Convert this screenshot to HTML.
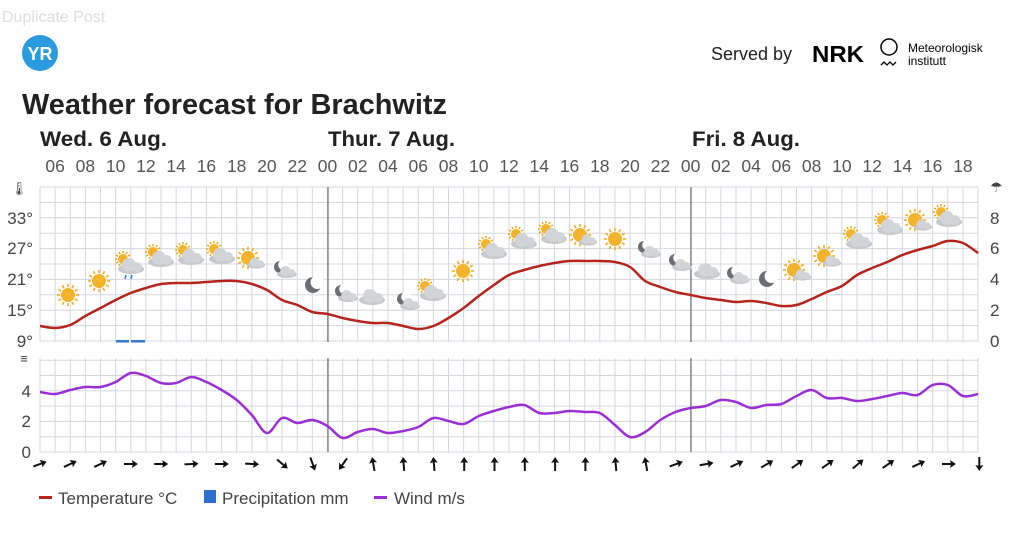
<!DOCTYPE html>
<html><head><meta charset="utf-8"><style>
body{margin:0;width:1024px;height:532px;background:#fff;overflow:hidden;font-family:"Liberation Sans",sans-serif}
</style></head><body>
<svg id="s" width="1024" height="532" xmlns="http://www.w3.org/2000/svg" font-family="Liberation Sans, sans-serif">
<text x="2" y="22" font-size="16" fill="#ddd">Duplicate Post</text>
<circle cx="40" cy="53" r="18" fill="#2b9be0"/>
<text x="40" y="60" font-size="18" font-weight="bold" fill="#fff" text-anchor="middle">YR</text>
<text x="711" y="60" font-size="18" fill="#222">Served by</text>
<text x="812" y="62" font-size="23" font-weight="bold" fill="#000" textLength="52" lengthAdjust="spacingAndGlyphs">NRK</text>
<circle cx="889" cy="47" r="8" fill="none" stroke="#000" stroke-width="1.5"/>
<path d="M881 65 l3 -3 l3 3 l3 -3 l3 3 l3 -3" fill="none" stroke="#000" stroke-width="1.3"/>
<text x="908" y="52" font-size="12" fill="#000">Meteorologisk</text>
<text x="908" y="65" font-size="12" fill="#000">institutt</text>
<text x="22" y="114" font-size="29" font-weight="bold" fill="#222" textLength="425" lengthAdjust="spacingAndGlyphs">Weather forecast for Brachwitz</text>
<text x="40" y="146" font-size="21" font-weight="bold" fill="#222" textLength="127" lengthAdjust="spacingAndGlyphs">Wed. 6 Aug.</text>
<text x="328" y="146" font-size="21" font-weight="bold" fill="#222" textLength="127" lengthAdjust="spacingAndGlyphs">Thur. 7 Aug.</text>
<text x="692" y="146" font-size="21" font-weight="bold" fill="#222" textLength="108" lengthAdjust="spacingAndGlyphs">Fri. 8 Aug.</text>
<g id="g"></g>
</svg>
<script>
const NS="http://www.w3.org/2000/svg",g=document.getElementById('g');
function el(t,a,txt){const e=document.createElementNS(NS,t);for(const k in a)e.setAttribute(k,a[k]);if(txt!==undefined)e.textContent=txt;g.appendChild(e);return e;}
const x0=40,dx=15.13,N=62,x1=x0+N*dx;
for(let i=0;i<=N;i++){const x=x0+i*dx;el('line',{x1:x,x2:x,y1:187,y2:342,stroke:'#d3d8e0','stroke-width':1});el('line',{x1:x,x2:x,y1:358,y2:452,stroke:'#d3d8e0','stroke-width':1});}
for(let j=0;j<=10;j++){const y=187+j*15.4;el('line',{x1:x0,x2:x1,y1:y,y2:y,stroke:'#d3d8e0'});}
for(let j=0;j<=6;j++){const y=452-j*15.3;el('line',{x1:x0,x2:x1,y1:y,y2:y,stroke:'#d3d8e0'});}
[328,691].forEach(x=>{el('line',{x1:x,x2:x,y1:187,y2:342,stroke:'#555'});el('line',{x1:x,x2:x,y1:358,y2:452,stroke:'#555'});});
for(let i=1;i<N;i+=2){const h=(5+i)%24;el('text',{x:x0+i*dx,y:172,'font-size':17.5,fill:'#555','text-anchor':'middle'},String(h).padStart(2,'0'));}
[[33,224],[27,254],[21,285],[15,316],[9,347]].forEach(a=>el('text',{x:33,y:a[1],'font-size':17,fill:'#444','text-anchor':'end'},a[0]+'°'));
[[8,224],[6,254],[4,285],[2,316],[0,347]].forEach(a=>el('text',{x:990,y:a[1],'font-size':17,fill:'#444'},a[0]));
[[4,397],[2,427],[0,458]].forEach(a=>el('text',{x:31,y:a[1],'font-size':17,fill:'#444','text-anchor':'end'},a[0]));
el('text',{x:19,y:193,'font-size':13,fill:'#444','text-anchor':'middle'},'🌡');
el('text',{x:990,y:192,'font-size':14,fill:'#444'},'☂');
el('text',{x:24,y:363,'font-size':13,fill:'#444','text-anchor':'middle'},'≡');
el('rect',{x:116,y:340,width:13,height:2.5,fill:'#3a78d0'});el('rect',{x:131,y:340,width:14,height:2.5,fill:'#3a78d0'});
function path(p){let d='M'+p[0][0]+' '+p[0][1];for(let i=0;i<p.length-1;i++){const a=p[Math.max(0,i-1)],b=p[i],c=p[i+1],e=p[Math.min(p.length-1,i+2)];d+=` C${b[0]+(c[0]-a[0])/6} ${b[1]+(c[1]-a[1])/6} ${c[0]-(e[0]-b[0])/6} ${c[1]-(e[1]-b[1])/6} ${c[0]} ${c[1]}`;}return d;}
const T=[326,328,325,316,308,300,293,288,284,283,283,282,281,281,284,290,300,305,312,314,318,321,323,323,326,329,326,318,308,296,285,275,270,266,263,261,261,261,262,267,281,287,292,295,298,300,302,301,303,306,305,299,292,286,275,268,262,255,250,246,241,243,246,253];
const W=[392,394,390,387,387,382,373,376,383,383,377,382,390,400,415,433,418,423,420,426,438,432,429,433,431,427,418,421,424,416,411,407,405,413,413,411,412,413,425,437,432,420,412,408,406,400,402,408,405,404,396,390,398,398,401,399,396,393,395,385,385,396,394];
const tp=T.slice(0,N).map((y,i)=>[x0+i*dx,y]);tp.push([x1,253]);
const wp=W.map((y,i)=>[x0+i*dx,y]);
el('path',{d:path(tp),fill:'none',stroke:'#b5241d','stroke-width':2.5});
el('path',{d:path(wp),fill:'none',stroke:'#9b2fd6','stroke-width':2.5});
function sun(x,y,r){for(let a=0;a<12;a++){const t=a*Math.PI/6;el('line',{x1:x+Math.cos(t)*r*1.15,y1:y+Math.sin(t)*r*1.15,x2:x+Math.cos(t)*r*1.6,y2:y+Math.sin(t)*r*1.6,stroke:'#f0a818','stroke-width':1.5});}el('circle',{cx:x,cy:y,r:r,fill:'#f3b42c'});}
function cloud(x,y,s){el('ellipse',{cx:x,cy:y+3*s,rx:13*s,ry:5*s,fill:'#c6c8cc'});el('circle',{cx:x-2*s,cy:y-1*s,r:7*s,fill:'#d2d4d8'});el('circle',{cx:x+6*s,cy:y+1*s,r:5*s,fill:'#d2d4d8'});}
function moon(x,y,r){el('circle',{cx:x,cy:y,r:r,fill:'#6b6e74'});el('circle',{cx:x+r*0.55,cy:y-r*0.35,r:r*0.85,fill:'#fff'});}
const I=[[68,295,'s'],[99,281,'s'],[130,265,'pr'],[160,258,'p'],[190,256,'p'],[221,255,'p'],[252,260,'sc'],[284,270,'mc'],[313,285,'m'],[345,294,'mc'],[372,297,'c'],[407,302,'mc'],[432,292,'p'],[463,271,'s'],[493,250,'p'],[523,240,'p'],[553,235,'p'],[584,237,'sc'],[615,239,'s'],[648,250,'mc'],[679,263,'mc'],[707,271,'c'],[737,276,'mc'],[767,279,'m'],[798,272,'sc'],[828,258,'sc'],[858,240,'p'],[889,226,'p'],[919,222,'sc'],[948,218,'p']];
I.forEach(([x,y,t])=>{if(t=='s')sun(x,y,7);else if(t=='m')moon(x,y,8);else if(t=='c')cloud(x,y,1);else if(t=='mc'){moon(x-4,y-3,6);cloud(x+3,y+2,0.75);}else if(t=='sc'){sun(x-4,y-2,7);cloud(x+4,y+3,0.7);}else{sun(x-7,y-6,5);cloud(x+1,y+1,1);if(t=='pr'){el('line',{x1:x-4,y1:y+10,x2:x-5,y2:y+14,stroke:'#3a78d0','stroke-width':1.5});el('line',{x1:x+2,y1:y+10,x2:x+1,y2:y+14,stroke:'#3a78d0','stroke-width':1.5});}}});
const A=[-20,-25,-25,0,0,-3,0,3,40,70,125,-100,-95,-95,-90,-90,-90,-90,-90,-95,-100,-20,-10,-25,-30,-35,-35,-40,-35,-25,0,90];
A.forEach((a,i)=>{const gg=document.createElementNS(NS,'g');gg.setAttribute('transform',`translate(${x0+i*30.3},464) rotate(${a})`);gg.innerHTML='<line x1="-7" y1="0" x2="5" y2="0" stroke="#111" stroke-width="2"/><path d="M7 0 L1 -4 L2 0 L1 4Z" fill="#111"/>';g.appendChild(gg);});
el('rect',{x:39,y:496,width:13,height:3,fill:'#b5241d'});
el('text',{x:58,y:504,'font-size':17,fill:'#444'},'Temperature °C');
el('rect',{x:204,y:490,width:12,height:13,fill:'#2f6fd0'});
el('text',{x:222,y:504,'font-size':17,fill:'#444'},'Precipitation mm');
el('rect',{x:374,y:496,width:13,height:3,fill:'#9b2fd6'});
el('text',{x:394,y:504,'font-size':17,fill:'#444'},'Wind m/s');
</script>
</body></html>
